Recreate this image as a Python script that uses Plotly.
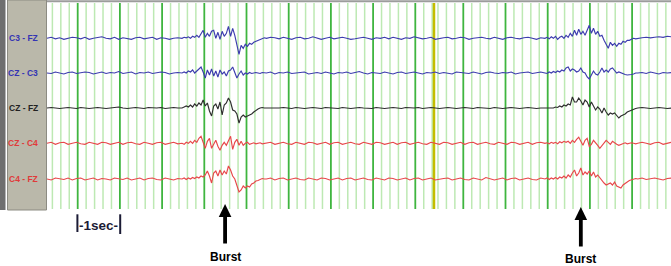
import plotly.graph_objects as go

# ---------------- data ----------------
channel_names = ["C3 - FZ", "CZ - C3", "CZ - FZ", "CZ - C4", "C4 - FZ"]
base_step_s = 0.1              # background record: one value every 0.1 s
burst_step_s = 0.05            # burst detail: one value every 0.05 s
burst_starts_s = [3.2, 11.8]   # start of each burst-detail window
burst_times_s = [4.22, 12.65]  # marked bursts (arrows)
scale_label = "-1sec-"

# background deflection (display units, positive = upward), one value per 0.1 s
c3_fz = [
    0, 1, -0.5, 0.5, -1, 0, 1, 0.5, -0.5, 1,
    -1, 0, 0.5, 1.5, 0, -0.5, 1, -1, 0.5, 0,
    -1, 0.5, 1, -0.5, 0, 1, -1, 0.5, 0, -1,
    0, 0.5, 1, 2, 1, 2, 4, 7, 3, 6,
    1, 7, 4, 12, 2, 9, -16, -6, -7, -5,
    -4, -1, 0, 1, 0.5, -0.5, 1, 0, -1, 0.5,
    1, -0.5, 0, 1.5, 0.5, -1, 0, 1, -0.5, 0.5,
    1, 0, -1, -0.5, 0.5, 1, 0, -1, 0.5, 0,
    1, -0.5, 1, 0, -1, 0.5, 0, 1.5, 0.5, -0.5,
    0, 1, -1, 0, 0.5, 1, -0.5, 0, 1, 0.5,
    -1, 0, 0.5, 1, 0, -0.5, 1, 0, -1, 0.5,
    1, 0, -0.5, 0.5, 1, 0, -1, 0.5, 0, 1,
    -1, 2, 0, 3, 2, 7, 3, 6, 4, 12,
    4, 6, 0, -5, -2, -7, -4, -3, -1, -1,
    0, 0.5, 1, 0.5, 1, 1.5, 1, 2, 1.5,
]
cz_c3 = [
    0, -0.5, 1, 0, -1, 0.5, 1, -0.5, 0, 1,
    0.5, -1, 0, 1, -0.5, 0.5, 0, 1.5, -0.5, 0,
    1, -1, 0.5, 0, 1, -0.5, 0, 1, 0.5, -1,
    0, 0.5, 1, 2, 0, 3, 6, -4, 3, -3,
    4, -2, 2, -3, 6, -3, 2, -1, 1, 0,
    0.5, -0.5, 0, 1, -1, 0.5, 0, 1, -0.5, 0,
    0.5, 1, -1, 0, 0.5, -0.5, 1, 0, -1, 0.5,
    0, 1, -0.5, 0.5, 1.5, 0, -1, 0.5, 0, -0.5,
    1, 0, -1, 0.5, 1, -0.5, 0, 1, 0, -1,
    0.5, 0, 1, -0.5, 0.5, 0, -1, 1, 0.5, 0,
    -0.5, 1, 0, -1, 0.5, 1, 0, -0.5, 0.5, 0,
    1, -1, 0, 0.5, 1, -0.5, 0, 1, 0, -1,
    1, 2, 3, 6, 2, 4, 1, 4, -3, -6,
    -1, 3, -2, 5, 0, 2, -1, -2, -2, -1,
    0, 0.5, -0.5, 1, 0, -1, 0.5, 0, 0.5,
]
cz_fz = [
    0, 0.5, 0, -0.5, 0, 0.5, 0, -0.5, 0.5, 0,
    -0.5, 0, 0.5, 0, -0.5, 0, 0.5, 1, 0, -0.5,
    0, 0.5, 0, -0.5, 0.5, 0, 0, 0.5, -0.5, 0,
    0.5, 0, 1, 3, 2, 4, 5, -7, 4, -8,
    3, -3, 5, 9, -2, -12, -9, -6, -6, -3,
    -1, 0, 0.5, 0, -0.5, 0, 0.5, 0, -0.5, 0.5,
    0, -0.5, 0, 0.5, 0, -0.5, 0.5, 0, 0, -0.5,
    0.5, 0, -0.5, 0, 0.5, 0, 0, -0.5, 0.5, 0,
    -0.5, 0, 0.5, 0, -0.5, 0.5, 0, 0, 0.5, -0.5,
    0, 0.5, 0, -0.5, 0, 0.5, 0, -0.5, 0, 0.5,
    0, -0.5, 0.5, 0, 0, -0.5, 0.5, 0, -0.5, 0,
    0.5, 0, -0.5, 0, 0.5, 0, -0.5, 0, 0.5, 1,
    0, 1, 2, 3, 2, 10, 5, 8, 2, 6,
    0, 3, -4, -1, -7, -5, -9, -7, -4, -2,
    0, 0.5, 0, -0.5, 0, 0.5, 0, -0.5, 0,
]
cz_c4 = [
    0, 1, -1, 0.5, 1, -1, 0, 1, -0.5, -1,
    1, 0, -1, 1, 0.5, -1, 0, 1, -1, 0.5,
    1, -0.5, -1, 1, 0, -1, 0.5, 1, -1, 0,
    1, -0.5, 0, 2, 1, 4, 6, 2, -5, 3,
    -4, -6, 2, 6, -4, 3, -2, 1, -1, 0,
    1, -1, 0.5, 1, -1, 0, 1, -0.5, -1, 1,
    0, -1, 1, 0.5, -1, 0, 1, -1, 0.5, 1,
    -1, 0, 1, -0.5, -1, 1, 0, -1, 1, 0.5,
    -1, 0, 1, -1, 0.5, 1, -1, 0, 1, -0.5,
    -1, 1, 0, -1, 1, 0.5, -1, 0, 1, -1,
    0.5, 1, -1, 0, 1, -0.5, -1, 1, 0, -1,
    1, 0.5, -1, 0, 1, -1, 0.5, 1, 0, -1,
    1, 0, 2, 1, 3, 2, 6, -2, 4, -4,
    2, -5, -2, 3, 1, -1, -1, 0, 1, -0.5,
    -1, 1, 0, -1, 0.5, 1, -1, 0, 1,
]
c4_fz = [
    0, -1, 1, 0, -0.5, 1, -1, 0.5, 1, -1,
    0, 1, -1, 0.5, 0, -1, 1, 0, -0.5, 1,
    -1, 0, 1, -1, 0.5, 1, -0.5, -1, 1, 0,
    -1, 0.5, 0, 1, -1, 1, 2, 3, 7, -4,
    6, 4, 8, 12, 3, -4, -12, -8, -9, -5,
    -2, -1, 0, 1, -1, 0.5, 1, -1, 0, 1,
    -0.5, -1, 1, 0, -1, 1, 0.5, -1, 0, 1,
    -1, 0.5, 1, -1, 0, 1, -0.5, -1, 1, 0,
    -1, 1, 0.5, -1, 0, 1, -1, 0.5, 1, -1,
    0, 1, -1, 0, 0.5, 1, -1, 0, 1, -0.5,
    -1, 1, 0, -1, 1.5, 0.5, -1, 0, 1, -1,
    0.5, 1, -1, 0, 1, -0.5, -1, 1, 0, 1,
    -1, 1, 2, 3, 2, 8, 2, 10, 4, 7,
    3, 6, -1, -4, -5, -7, -9, -6, -3, -1,
    0, 1, -0.5, 0.5, 1, 0, -1, 0.5, 1,
]

# burst detail, one value per 0.05 s, window 1 starts at 3.2 s, window 2 at 11.8 s
c3_fz_b1 = [0, 1, 0.5, 1.5, 0, 2, 1, 3, 1, 4,
            8, 1, 5, 2, 7, 8, 0, 6, -1, 7,
            2, 5, 12, 2, 10, 3, -8, -16, -7, -10,
            -6, -8, -5, -6, -4, -3, -2, -1.5, -0.5, 0.5, 0]
cz_c3_b1 = [0, 1, 0, 2, 1, 3, 0, 2, 5, 6,
            1, -5, 3, -2, 4, -3, 2, -4, 3, -1,
            1, -3, 2, 3, 6, 0, -5, -1, 2, -2,
            0, -1, 0.5, -0.5, 0, 0.5, 0, -0.5, 0.5, 0, 0]
cz_fz_b1 = [0, 1, 2, 1, 3, 1, 4, 2, 5, 3,
            8, 2, 5, -3, -8, 2, 4, -1, 6, -7,
            3, 5, 10, 6, -2, -3, -6, -15, -9, -7,
            -9, -8, -7, -6, -4, -2, -1, 0, 0.5, 0, 0]
cz_c4_b1 = [0, -1, 1, 0, 2, 0, 3, 1, 5, 7,
            1, -5, 2, 5, -5, -1, 3, -3, -7, -2,
            1, -2, 3, 7, -6, 1, 4, -2, 2, -2,
            0, 1, -1, 0, 0.5, -0.5, 0, 0.5, -0.5, 0, 0]
c4_fz_b1 = [0, 1, -0.5, 1, 0, 1.5, 0.5, 2, 1, 3,
            2, 4, 8, 3, -4, 6, 8, 3, 9, 4,
            8, 5, 13, 9, 3, 0, -6, -13, -11, -7,
            -9, -7, -8, -5, -4, -2, -1.5, -0.5, 0.5, 0, 0]

c3_fz_b2 = [0, 1, -0.5, 1.5, 0, 2, -1, 1, 2, 0,
            3, 1, 5, 2, 8, 3, 9, 4, 7, 3,
            8, 13, 5, 10, 4, 7, 2, 3, -2, -6,
            -10, -4, -7, -5, -8, -5, -6, -3, -4, -2,
            -2, -1, 0, -0.5, 0]
cz_c3_b2 = [0, -0.5, 1, 0, 1.5, 0.5, 2, 1, 3, 2,
            5, 6, 2, 4, 3, 1, 2, 5, 1, 0,
            -4, -6, -2, 2, -1, -2, 1, 5, 1, 3,
            1, 4, 5, 2, 0, 1, 0, -1, -1.5, -2,
            -2, -1.5, -1, 0, 0]
cz_fz_b2 = [0, 0.5, 0, 0.5, 0, 1, 0.5, 2, 1, 3,
            2, 4, 3, 11, 6, 6, 10, 7, 3, 8,
            6, 1, 6, 2, -2, 1, -1, -5, 0, -4,
            -7, -5, -6, -5, -8, -10, -8, -7, -6, -4,
            -3, -2, -1, -0.5, 0]
cz_c4_b2 = [0, 0.5, -0.5, 1, 0, 1, -0.5, 1.5, 0.5, 2,
            1, 2, 0, 3, 1, 4, 6, 2, -2, 3,
            5, -3, -1, 3, 1, -2, -5, -2, 1, 3,
            1, -1, 2, 0, -1, -2, -1, 0, 0.5, -0.5,
            0, 0.5, 0, -0.5, 0]
c4_fz_b2 = [0, 1, -0.5, 1, 0, 1.5, 0, 2, 1, 3,
            1, 4, 2, 6, 9, 3, 6, 11, 4, 7,
            5, 8, 3, 7, 2, 4, 1, -2, -4, -6,
            -5, -4, -6, -3, -7, -8, -9, -6, -4, -3,
            -1.5, -1, 0, 0.5, 0]

channels = [c3_fz, cz_c3, cz_fz, cz_c4, c4_fz]
bursts = [
    [c3_fz_b1, c3_fz_b2],
    [cz_c3_b1, cz_c3_b2],
    [cz_fz_b1, cz_fz_b2],
    [cz_c4_b1, cz_c4_b2],
    [c4_fz_b1, c4_fz_b2],
]

# ---------------- layout / style ----------------
W, H = 671, 266
PX_PER_S = 42.2
X0 = 47.0                      # pixel where t = 0
def tx(px):                    # pixel -> seconds on the x axis
    return (px - X0) / PX_PER_S

row_y = [38.3, 73, 108, 143.3, 179]           # baseline of each row (pixels from top)
colors = ["#3c3cae", "#3c3cae", "#2e2e2e", "#e8474a", "#e8474a"]
label_colors = ["#3434b4", "#3434b4", "#222222", "#e03a3a", "#e03a3a"]


def merged_series(base, details):
    pts = []
    windows = []
    for start, vals in zip(burst_starts_s, details):
        end = start + (len(vals) - 1) * burst_step_s
        windows.append((start, end))
        pts += [(start + j * burst_step_s, v) for j, v in enumerate(vals)]
    for i, v in enumerate(base):
        t = i * base_step_s
        if not any(s - 1e-9 <= t <= e + 1e-9 for s, e in windows):
            pts.append((t, v))
    pts.sort()
    return [p[0] for p in pts], [p[1] for p in pts]


fig = go.Figure()
for base, det, y0, col, name in zip(channels, bursts, row_y, colors, channel_names):
    t, v = merged_series(base, det)
    fig.add_trace(go.Scatter(
        x=t, y=[y0 - d for d in v], mode="lines", name=name,
        line=dict(color=col, width=1.15), hoverinfo="skip", showlegend=False,
    ))

shapes = []
# grid: 0.2 s light lines, 1 s dark lines; page break (yellow) with grid re-phased
GY0, GY1 = 3, 209
def add_grid(t_dark, kmin, kmax):
    for k in range(kmin, kmax + 1):
        t = t_dark + 0.2 * k
        dark = (k % 5 == 0)
        shapes.append(dict(type="line", xref="x", yref="y", x0=t, x1=t, y0=GY0, y1=GY1,
                           line=dict(color="#3fb53f" if dark else "#bde9b3",
                                     width=1.8 if dark else 1.5), layer="below"))
add_grid(tx(77.7), -3, 42)
add_grid(tx(463.3), -3, 24)
t_yel = tx(434)
shapes.append(dict(type="line", xref="x", yref="y", x0=t_yel, x1=t_yel, y0=GY0, y1=GY1,
                   line=dict(color="#c4bd00", width=2.5), layer="below"))
# top border
shapes.append(dict(type="line", xref="x", yref="y", x0=tx(46), x1=tx(671), y0=1.3, y1=1.3,
                   line=dict(color="#9c9c9c", width=2)))
# left label panel
shapes.append(dict(type="rect", xref="x", yref="y", x0=tx(0), x1=tx(5.5), y0=0, y1=210,
                   fillcolor="#6f6f6f", line=dict(width=0)))
shapes.append(dict(type="rect", xref="x", yref="y", x0=tx(7.5), x1=tx(46.5), y0=0, y1=210,
                   fillcolor="#bab8aa", line=dict(color="#8c8b82", width=1)))

# scale bar "|-1sec-|"
for bx, yb in ((77.4, 232), (120.2, 234)):
    shapes.append(dict(type="line", xref="x", yref="y", x0=tx(bx), x1=tx(bx), y0=214.3, y1=yb,
                       line=dict(color="#1b1b35", width=2)))

# burst arrows
arrow_geo = [(204, 217, 243.5, 256.5), (207, 220, 246.5, 258.5)]
half_head = 6.3 / PX_PER_S
half_shaft = 1.9 / PX_PER_S
annotations = []
for bt, (tip, base, bottom, ty) in zip(burst_times_s, arrow_geo):
    shapes.append(dict(type="path", xref="x", yref="y",
                       path=f"M {bt - half_head},{base} L {bt},{tip} L {bt + half_head},{base} Z",
                       fillcolor="black", line=dict(width=0)))
    shapes.append(dict(type="rect", xref="x", yref="y", x0=bt - half_shaft, x1=bt + half_shaft,
                       y0=base - 0.5, y1=bottom, fillcolor="black", line=dict(width=0)))
    annotations.append(dict(x=bt, y=ty, xref="x", yref="y", text="<b>Burst</b>", showarrow=False,
                            font=dict(family="Liberation Sans, Arial", size=12, color="black"),
                            xanchor="center", yanchor="middle"))

annotations.append(dict(x=tx(98.2), y=225, xref="x", yref="y", text=f"<b>{scale_label}</b>",
                        showarrow=False, xanchor="center", yanchor="middle",
                        font=dict(family="Liberation Sans, Arial", size=13.5, color="#1b1b35")))

for name, y0, col in zip(channel_names, row_y, label_colors):
    annotations.append(dict(x=tx(40), y=y0, xref="x", yref="y", text=f"<b>{name}</b>",
                            showarrow=False, xanchor="right", yanchor="middle",
                            font=dict(family="Liberation Sans, Arial", size=8.5, color=col)))

fig.update_layout(
    width=W, height=H, margin=dict(l=0, r=0, t=0, b=0),
    paper_bgcolor="white", plot_bgcolor="white",
    xaxis=dict(range=[tx(0), tx(W)], visible=False, fixedrange=True),
    yaxis=dict(range=[H, 0], visible=False, fixedrange=True),
    shapes=shapes, annotations=annotations, showlegend=False,
)

fig.write_html("out.html")
